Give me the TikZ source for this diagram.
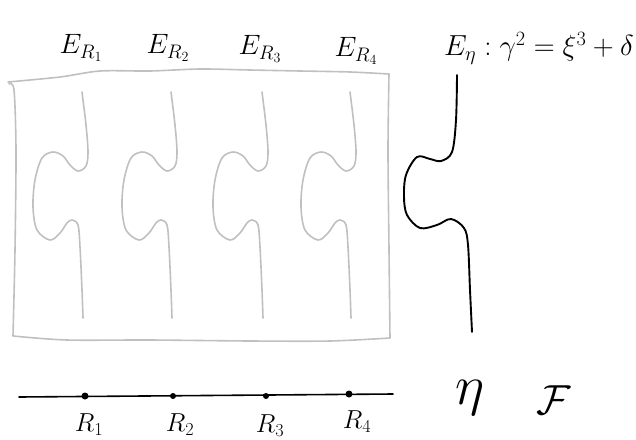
\RequirePackage{fix-cm}
\documentclass[tikz,border=0pt]{standalone}
\usetikzlibrary{calc}
\definecolor{fibgray}{RGB}{192,192,192}
\tikzset{
  sheaf/.style={draw=fibgray, line width=1.6pt, line cap=round, line join=round},
  fiberline/.style={draw=black, line width=1.9pt, line cap=round, line join=round},
  baseline/.style={draw=black, line width=1.6pt, line cap=round},
  pt/.style={circle, fill=black, inner sep=0pt, minimum size=7pt},
  toplabel/.style={font=\fontsize{28}{30}\selectfont, inner sep=0pt},
  botlabel/.style={font=\fontsize{26}{28}\selectfont, inner sep=0pt},
  biglabel/.style={font=\fontsize{56}{60}\selectfont, inner sep=0pt}
}
\begin{document}
\begin{tikzpicture}[x=1pt,y=-1pt]
\useasboundingbox (0,0) rectangle (636,439);
% outline of the surface
\draw[sheaf] plot[smooth, tension=0.5] coordinates {(8,82) (60,77) (100,71) (150,71) (200,69) (250,70) (300,71) (350,72) (389,74)}
  -- plot[smooth, tension=0.5] coordinates {(389,74) (388,150) (389,250) (390,338)}
  -- plot[smooth, tension=0.5] coordinates {(390,338) (330,341) (250,341) (150,340) (67,340) (13,336)}
  -- plot[smooth, tension=0.5] coordinates {(13,336) (15,250) (16,150) (14,90) (9,84)};
% gray fibres
\foreach \dx in {0,89,180,268}{
  \draw[sheaf, shift={(\dx,0)}] plot[smooth, tension=0.55] coordinates {
    (82,92) (86,125) (88,152) (86,166) (78,171) (70,165) (63,156) (53,152) (42,158) (35,180) (33,207) (37,230) (50,240) (60,233) (67,223) (72,220) (78,225) (80,247) (82,290) (83,318)};
}
% black fibre
\draw[fiberline] plot[smooth, tension=0.55] coordinates {
  (457,75) (456,120) (452,152) (441,161) (430,159) (417,157) (406,175) (404,197) (407,215) (420,228) (437,225) (451,219) (464,228) (468,245) (470,290) (472,332)};
% base line with points
\coordinate (bl) at (19,397);
\coordinate (br) at (393,394);
\draw[baseline] (bl) -- (br);
\node[pt] (r1) at (85,396) {};
\node[pt, minimum size=6pt] (r2) at (173,396) {};
\node[pt, minimum size=6pt] (r3) at (266,396) {};
\node[pt] (r4) at (349,394) {};
\node[botlabel] (lr1) at (89,425) {$R_1$};
\node[botlabel] (lr2) at (180,425) {$R_2$};
\node[botlabel] (lr3) at (270,426) {$R_3$};
\node[botlabel] (lr4) at (357,422) {$R_4$};
% fibre labels
\node[toplabel] (e1) at (81,48) {$E_{R_1}$};
\node[toplabel] (e2) at (168,48) {$E_{R_2}$};
\node[toplabel] (e3) at (260,49) {$E_{R_3}$};
\node[toplabel] (e4) at (356,51) {$E_{R_4}$};
\node[toplabel, font=\fontsize{29}{31}\selectfont, anchor=west] (eeta) at (444,48) {$E_\eta : \gamma^2 = \xi^3 + \delta$};
% base labels
\node[biglabel] (eta) at (470,398) {$\eta$};
\node[biglabel, font=\fontsize{42}{46}\selectfont] (F) at (554,400) {$\mathcal{F}$};
\end{tikzpicture}
\end{document}
